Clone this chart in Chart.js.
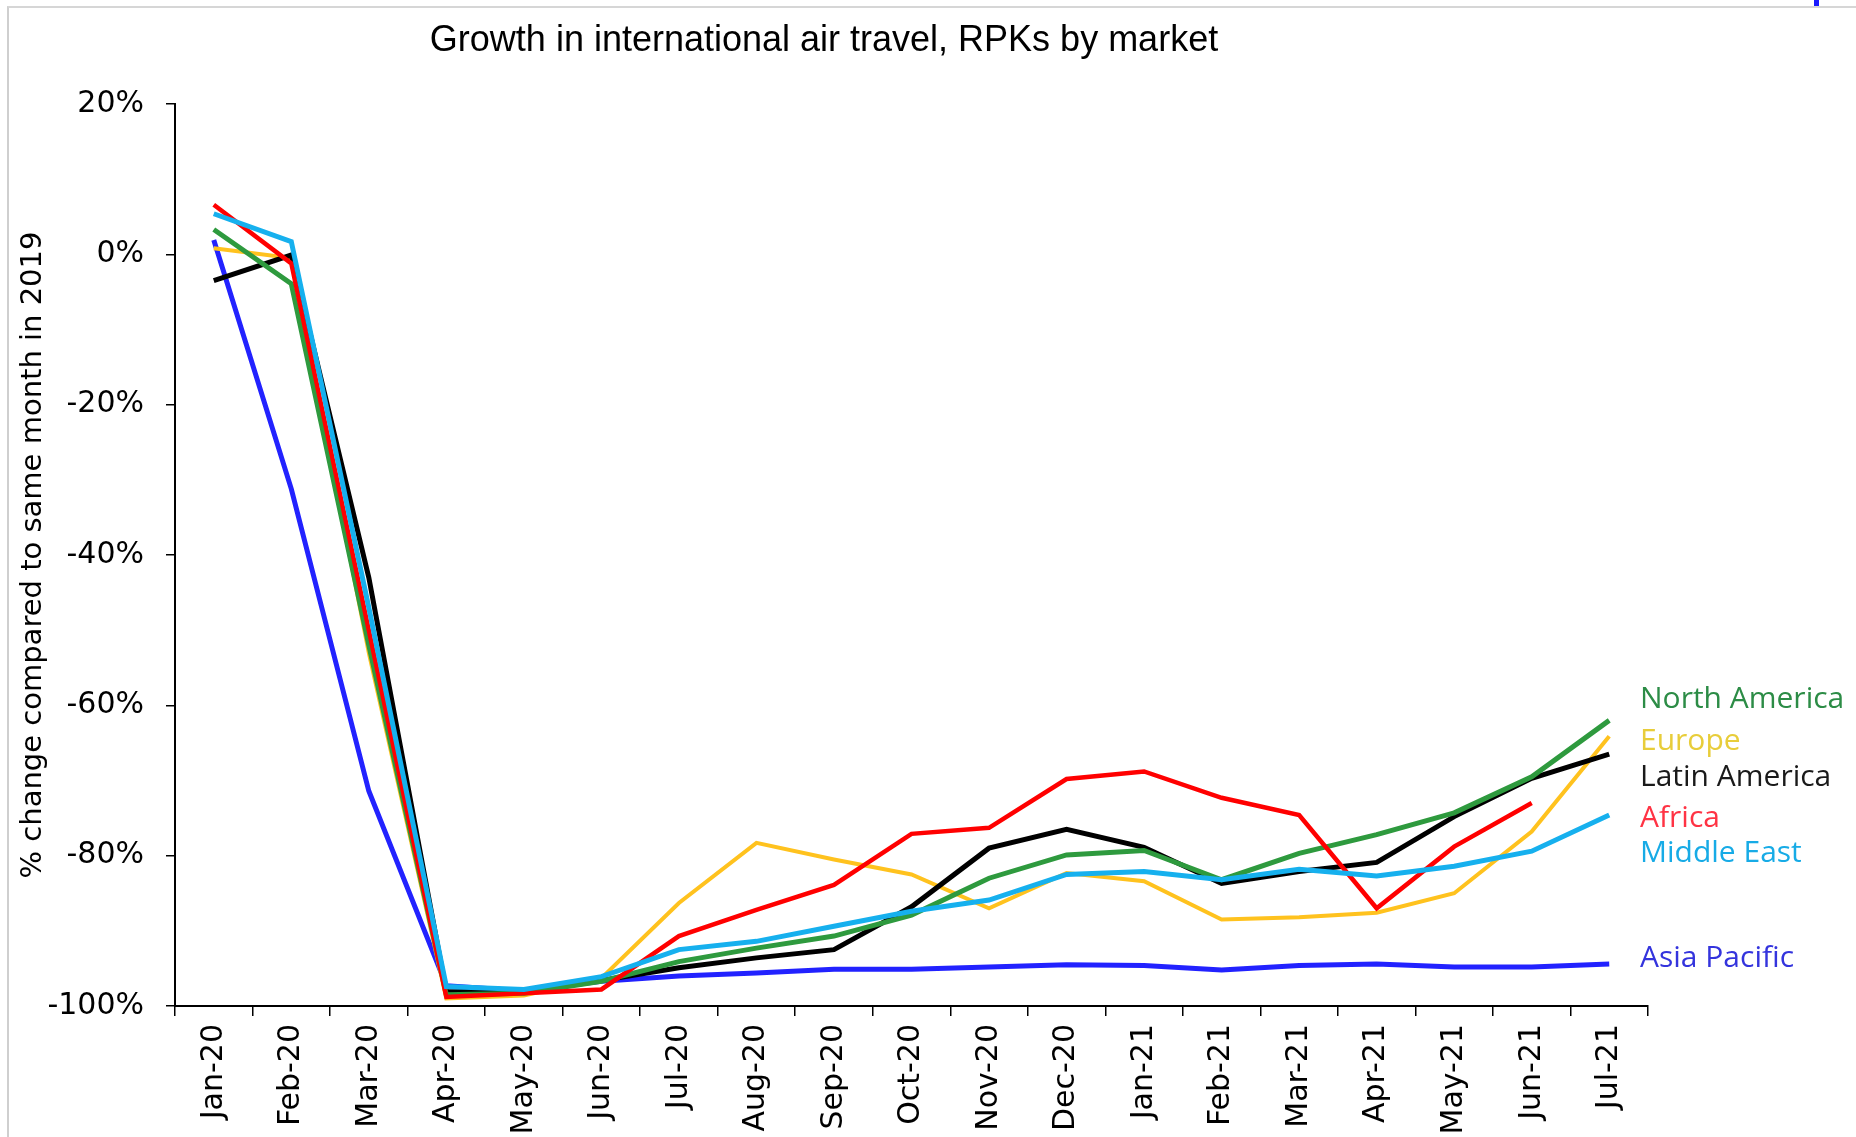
<!DOCTYPE html>
<html><head><meta charset="utf-8">
<script src="https://cdn.jsdelivr.net/npm/chart.js@4.4.1/dist/chart.umd.min.js"></script>
<style>
html,body{margin:0;padding:0;background:#fff;overflow:hidden;width:1856px;height:1137px}
#wrap{position:relative;width:1856px;height:1137px}
canvas{position:absolute;left:0;top:0}
#frame{position:absolute;left:7px;top:6px;right:0;bottom:0;border-left:2px solid #cfcfcf;border-top:2px solid #d6d6d6}
#mark{position:absolute;left:1814px;top:0;width:5px;height:6px;background:#1a1aff}
</style></head><body>
<div id="wrap"><div id="frame"></div><div id="mark"></div><canvas id="c" width="1856" height="1137"></canvas></div>
<script>
const months = ['Jan-20','Feb-20','Mar-20','Apr-20','May-20','Jun-20','Jul-20','Aug-20','Sep-20','Oct-20','Nov-20','Dec-20','Jan-21','Feb-21','Mar-21','Apr-21','May-21','Jun-21','Jul-21'];
const northAmerica = [3.3, -3.9, -52, -98.5, -98.3, -96.7, -94.1, -92.3, -90.7, -87.9, -83.0, -79.9, -79.3, -83.2, -79.7, -77.2, -74.3, -69.5, -62.0];
const europe       = [0.8, -0.5, -53, -99.0, -98.6, -96.3, -86.3, -78.3, -80.5, -82.5, -87.0, -82.3, -83.4, -88.5, -88.2, -87.6, -85.0, -76.8, -64.1];
const latinAmerica = [-3.5, -0.1, -43, -98.1, -98.0, -96.6, -94.9, -93.6, -92.5, -86.8, -79.0, -76.5, -78.9, -83.7, -82.1, -80.9, -74.8, -69.7, -66.5];
const africa       = [6.6, -1.2, -50, -98.8, -98.3, -97.8, -90.7, -87.2, -83.9, -77.1, -76.3, -69.8, -68.8, -72.3, -74.6, -87.0, -78.8, -73.0, null];
const middleEast   = [5.4, 1.7, -47, -97.4, -97.8, -96.1, -92.5, -91.4, -89.4, -87.4, -85.9, -82.5, -82.1, -83.2, -81.8, -82.7, -81.4, -79.4, -74.6];
const asiaPacific  = [1.9, -31.2, -71.4, -97.3, -98.0, -96.7, -96.0, -95.6, -95.1, -95.1, -94.8, -94.5, -94.6, -95.2, -94.6, -94.4, -94.8, -94.8, -94.4];
const yMin = -100, yMax = 20, yStep = 20;
const chartTitle = 'Growth in international air travel, RPKs by market';
const yTitle = '% change compared to same month in 2019';

const seriesLabels = [
  {text:'North America', color:'#2C8C46', at:-59.0},
  {text:'Europe',        color:'#E8CD3A', at:-64.6},
  {text:'Latin America', color:'#1a1a1a', at:-69.3},
  {text:'Africa',        color:'#FF3344', at:-74.8},
  {text:'Middle East',   color:'#17ABE6', at:-79.4},
  {text:'Asia Pacific',  color:'#3434DD', at:-93.4}
];

const labelPlugin = {
  id:'endLabels',
  afterDraw(chart){
    const ctx = chart.ctx, ys = chart.scales.y, area = chart.chartArea;
    ctx.save();
    ctx.font = '30px "Open Sans"';
    ctx.textAlign = 'left';
    ctx.textBaseline = 'alphabetic';
    seriesLabels.forEach(l=>{
      ctx.fillStyle = l.color;
      ctx.fillText(l.text, area.right - 8, ys.getPixelForValue(l.at) + 10.5);
    });
    ctx.font = '36px "Liberation Sans", Arial, sans-serif';
    ctx.fillStyle = '#000';
    ctx.textAlign = 'center';
    ctx.fillText(chartTitle, area.left + 649, 51);
    ctx.restore();
  }
};

const tickFont = {family:'DejaVu Sans', size:30};
new Chart(document.getElementById('c'), {
  type:'line',
  data:{labels:months, datasets:[
    {label:'Middle East',   data:middleEast,   borderColor:'#16B0EE', borderWidth:5},
    {label:'Africa',        data:africa,       borderColor:'#FF0000', borderWidth:4.5},
    {label:'North America', data:northAmerica, borderColor:'#2E9A3E', borderWidth:5},
    {label:'Latin America', data:latinAmerica, borderColor:'#000000', borderWidth:5},
    {label:'Europe',        data:europe,       borderColor:'#FFC21E', borderWidth:4},
    {label:'Asia Pacific',  data:asiaPacific,  borderColor:'#2222FF', borderWidth:5}
  ]},
  options:{
    responsive:false, animation:false,
    layout:{padding:{left:0,right:208,top:104,bottom:0}},
    elements:{point:{radius:0}, line:{tension:0, borderCapStyle:'butt', borderJoinStyle:'miter', fill:false}},
    plugins:{legend:{display:false}, tooltip:{enabled:false}, title:{display:false}},
    scales:{
      x:{
        offset:true,
        grid:{offset:true, drawOnChartArea:false, color:'#000', lineWidth:1.5, tickLength:10},
        border:{color:'#000', width:2},
        ticks:{autoSkip:false, maxRotation:90, minRotation:90, padding:8, color:'#000', font:tickFont},
        afterFit(s){ s.height = 131; }
      },
      y:{
        min:yMin, max:yMax,
        ticks:{stepSize:yStep, padding:22, color:'#000', font:tickFont, callback:v=>v+'%'},
        grid:{drawOnChartArea:false, color:'#000', lineWidth:1.5, tickLength:9},
        border:{color:'#000', width:2},
        title:{display:true, text:yTitle, color:'#000', font:{family:'DejaVu Sans', size:29}, padding:{top:16,bottom:0}},
        afterFit(s){ s.width = 175; }
      }
    }
  },
  plugins:[labelPlugin]
});
</script>
</body></html>
